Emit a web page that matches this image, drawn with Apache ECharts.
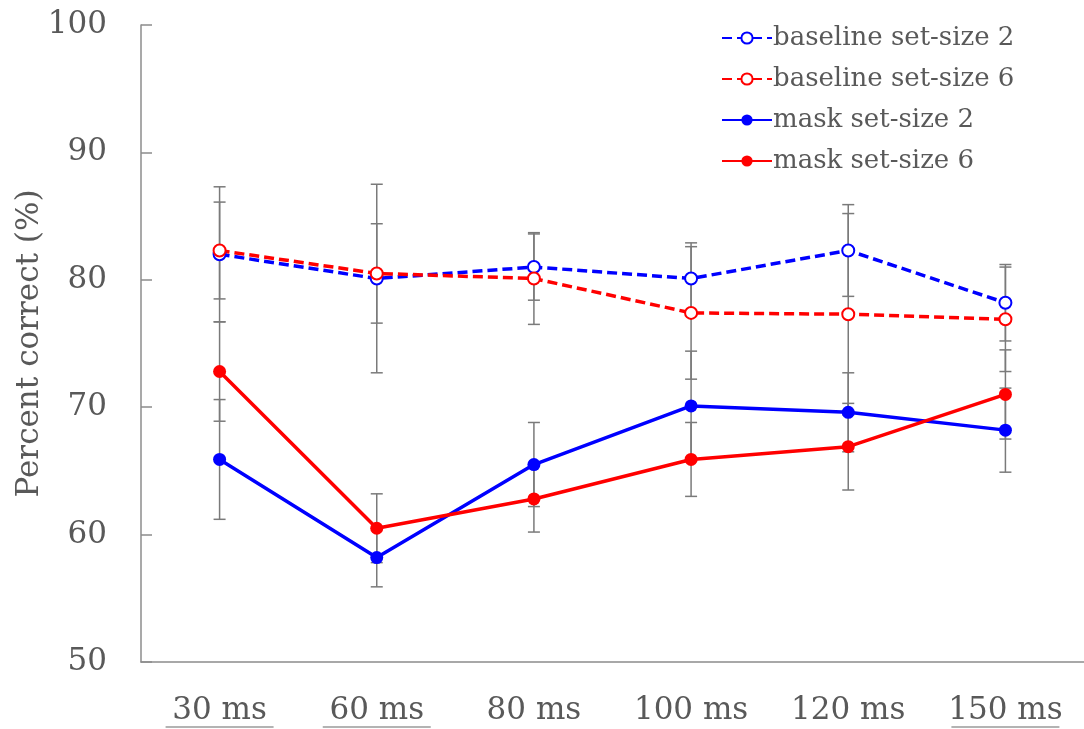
<!DOCTYPE html>
<html>
<head>
<meta charset="utf-8">
<script src="https://cdn.jsdelivr.net/npm/echarts@6/dist/echarts.min.js"></script>
<style>html,body{margin:0;padding:0;background:#fff;}#main{width:1084px;height:729px;}</style>
</head>
<body>
<div id="main"></div>
<script>
// ---- data ----
const categories = ['30 ms', '60 ms', '80 ms', '100 ms', '120 ms', '150 ms'];
const underlined = ['30 ms', '60 ms', '150 ms'];
const yTicks = [50, 60, 70, 80, 90, 100];
const seriesNames = ['baseline set-size 2', 'baseline set-size 6', 'mask set-size 2', 'mask set-size 6'];
const baseline2 = [82.0, 80.1, 81.0, 80.1, 82.3, 78.2];
const baseline6 = [82.3, 80.5, 80.1, 77.4, 77.3, 76.9];
const mask2 = [65.9, 58.2, 65.5, 70.1, 69.6, 68.2];
const mask6 = [72.8, 60.5, 62.8, 65.9, 66.9, 71.0];
const errBaseline2 = [5.3, 7.4, 2.6, 2.8, 3.6, 3.0];
const errBaseline6 = [3.8, 3.9, 3.6, 5.2, 7.9, 4.1];
const errMask2 = [4.7, 2.3, 3.3, 4.3, 3.1, 3.3];
const errMask6 = [3.9, 2.7, 2.6, 2.9, 3.4, 3.5];

const FONT = 'DejaVu Serif';
const TXT = '#595959';
const BLUE = '#0000ff';
const RED = '#ff0000';

function errData(vals, errs) {
  return vals.map((v, i) => [i, v - errs[i], v + errs[i]]);
}
function errSeries(vals, errs) {
  return {
    type: 'custom',
    z: 1,
    silent: true,
    data: errData(vals, errs),
    renderItem: function (params, api) {
      const x = api.value(0);
      const lo = api.coord([x, api.value(1)]);
      const hi = api.coord([x, api.value(2)]);
      const hw = 6;
      const st = { stroke: '#7a7a7a', lineWidth: 1.5 };
      return {
        type: 'group',
        children: [
          { type: 'line', shape: { x1: hi[0], y1: hi[1], x2: lo[0], y2: lo[1] }, style: st },
          { type: 'line', shape: { x1: hi[0] - hw, y1: hi[1], x2: hi[0] + hw, y2: hi[1] }, style: st },
          { type: 'line', shape: { x1: lo[0] - hw, y1: lo[1], x2: lo[0] + hw, y2: lo[1] }, style: st }
        ]
      };
    }
  };
}
function lineSeries(name, vals, color, dashed) {
  return {
    name: name,
    type: 'line',
    z: 3,
    data: vals,
    symbol: dashed ? 'emptyCircle' : 'circle',
    symbolSize: dashed ? 12 : 13,
    lineStyle: { color: color, width: 3.5, type: dashed ? [10, 5] : 'solid' },
    itemStyle: { color: color, borderWidth: dashed ? 1.5 : 0 }
  };
}

const chart = echarts.init(document.getElementById('main'));
chart.setOption({
  animation: false,
  backgroundColor: '#fff',
  grid: { left: 141, right: 0, top: 25, bottom: 67, outerBoundsMode: 'none', containLabel: false },
  legend: {
    orient: 'vertical',
    left: 716,
    top: 20,
    itemWidth: 50,
    itemHeight: 14,
    itemGap: 15,
    data: seriesNames,
    textStyle: { fontFamily: FONT, fontSize: 26, color: TXT, padding: [0, 0, 0, -4] }
  },
  xAxis: {
    type: 'category',
    data: categories,
    axisLine: { show: true, lineStyle: { color: '#8c8c8c', width: 1.5 } },
    axisTick: { show: false },
    axisLabel: {
      margin: 34,
      formatter: function (v) {
        return '{t|' + v + '}\n' + (underlined.indexOf(v) >= 0 ? '{u|}' : '{n|}');
      },
      rich: {
        t: { fontFamily: FONT, fontSize: 31, color: TXT, lineHeight: 29 },
        u: { width: 108, height: 1.5, lineHeight: 4, backgroundColor: '#9a9a9a' },
        n: { width: 108, height: 1.5, lineHeight: 4 }
      }
    }
  },
  yAxis: {
    type: 'value',
    min: yTicks[0],
    max: yTicks[yTicks.length - 1],
    interval: 10,
    name: 'Percent correct (%)',
    nameLocation: 'middle',
    nameGap: 96,
    nameRotate: 90,
    nameMoveOverlap: false,
    nameTextStyle: { fontFamily: FONT, fontSize: 31, color: TXT },
    axisLine: { show: true, lineStyle: { color: '#8c8c8c', width: 1.5 } },
    axisTick: { show: true, inside: true, length: 11, lineStyle: { color: '#8c8c8c', width: 1.5 } },
    splitLine: { show: false },
    axisLabel: { margin: 34, fontFamily: FONT, fontSize: 31, color: TXT }
  },
  series: [
    errSeries(baseline2, errBaseline2),
    errSeries(baseline6, errBaseline6),
    errSeries(mask2, errMask2),
    errSeries(mask6, errMask6),
    lineSeries(seriesNames[0], baseline2, BLUE, true),
    lineSeries(seriesNames[1], baseline6, RED, true),
    lineSeries(seriesNames[2], mask2, BLUE, false),
    lineSeries(seriesNames[3], mask6, RED, false)
  ]
});
</script>
</body>
</html>
